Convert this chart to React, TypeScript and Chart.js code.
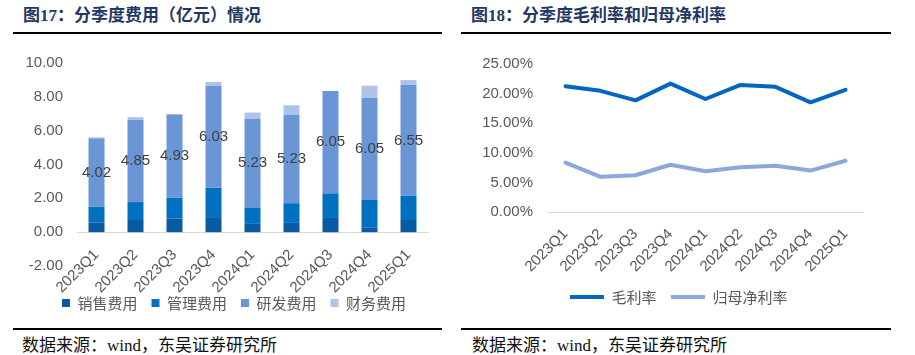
import React, { useEffect, useRef } from 'react';
import { Chart, registerables } from 'chart.js';

Chart.register(...registerables);

// ---- data ----
const quarters = ['2023Q1', '2023Q2', '2023Q3', '2023Q4', '2024Q1', '2024Q2', '2024Q3', '2024Q4', '2025Q1'];
const salesExp = [0.58, 0.72, 0.80, 0.89, 0.49, 0.55, 0.84, 0.26, 0.72];
const adminExp = [0.93, 1.06, 1.23, 1.73, 0.97, 1.16, 1.45, 1.64, 1.43];
const rdExp = [4.02, 4.85, 4.93, 6.03, 5.23, 5.23, 6.05, 6.05, 6.55];
const finExp = [0.08, 0.17, 0.03, 0.23, 0.38, 0.56, -0.03, 0.71, 0.29];
const grossMargin = [21.26, 20.48, 18.87, 21.70, 19.10, 21.48, 21.15, 18.54, 20.65];
const netMargin = [8.36, 5.98, 6.25, 8.02, 6.91, 7.58, 7.86, 7.03, 8.69];
const expenseTicks = [-2, 0, 2, 4, 6, 8, 10];
const marginTicks = [0, 5, 10, 15, 20, 25];
const expenseNames = ['销售费用', '管理费用', '研发费用', '财务费用'];
const marginNames = ['毛利率', '归母净利率'];

const LATIN = "'Liberation Sans', Arial, sans-serif";
const CJK = "'Noto Sans CJK SC', sans-serif";
const GRAY = '#595959';

const rdLabelPlugin = {
  id: 'rdLabels',
  afterDatasetsDraw(chart: any) {
    const meta = chart.getDatasetMeta(2);
    const ctx = chart.ctx;
    ctx.save();
    ctx.font = `15px ${LATIN}`;
    ctx.fillStyle = '#404040';
    ctx.textAlign = 'center';
    ctx.textBaseline = 'middle';
    meta.data.forEach((el: any, i: number) => {
      const { x, y, base } = el.getProps(['x', 'y', 'base'], true);
      ctx.fillText(rdExp[i].toFixed(2), x, (y + base) / 2);
    });
    ctx.restore();
  },
};

// an empty axis on the right, used only to reserve space
const spacerAxis = (w: number) => ({
  type: 'linear',
  position: 'right',
  display: true,
  grid: { display: false, drawTicks: false },
  border: { display: false },
  ticks: { display: false },
  afterFit: (s: any) => { s.width = w; },
});

function ExpenseChart() {
  const ref = useRef<HTMLCanvasElement>(null);
  useEffect(() => {
    const colors = ['#0A5AA3', '#0070C0', '#6A96D6', '#AFC3E9'];
    const series = [salesExp, adminExp, rdExp, finExp];
    const chart = new Chart(ref.current!, {
      type: 'bar',
      data: {
        labels: quarters,
        datasets: series.map((d, i) => ({
          label: expenseNames[i],
          data: d,
          backgroundColor: colors[i],
          borderWidth: 0,
          categoryPercentage: 1,
          barPercentage: 0.41,
        })),
      },
      options: {
        responsive: false,
        maintainAspectRatio: false,
        animation: false,
        layout: { padding: { left: 13, right: 0, top: 20, bottom: 1.5 } },
        plugins: {
          tooltip: { enabled: false },
          legend: {
            position: 'bottom',
            title: { display: true, text: '', font: { size: 10, lineHeight: 1 }, padding: { top: 5.5, bottom: 0 } },
            labels: {
              boxWidth: 8,
              boxHeight: 8,
              padding: 14,
              color: GRAY,
              font: { size: 15, family: CJK },
            },
          },
        },
        scales: {
          x: {
            stacked: true,
            position: { y: 0 } as any,
            grid: { display: false, drawTicks: false },
            border: { display: true, color: '#D9D9D9', width: 1 },
            ticks: {
              autoSkip: false,
              maxRotation: 45,
              minRotation: 45,
              padding: 14,
              color: GRAY,
              font: { size: 15, family: LATIN },
            },
          },
          y: {
            stacked: true,
            min: expenseTicks[0],
            max: expenseTicks[expenseTicks.length - 1],
            grid: { display: false, drawTicks: false },
            border: { display: false },
            ticks: {
              stepSize: 2,
              padding: 14,
              color: GRAY,
              font: { size: 15, family: LATIN },
              callback: (v: any) => Number(v).toFixed(2),
            },
            afterFit: (s: any) => { s.width = 64; },
          },
          y2: spacerAxis(27),
        },
      },
      plugins: [rdLabelPlugin],
    } as any);
    return () => chart.destroy();
  }, []);
  return <canvas ref={ref} width={455} height={282} style={{ position: 'absolute', left: 0, top: 40, width: 455, height: 282 }} />;
}

function MarginChart() {
  const ref = useRef<HTMLCanvasElement>(null);
  useEffect(() => {
    const colors = ['#0066BF', '#8AA8DE'];
    const series = [grossMargin, netMargin];
    const chart = new Chart(ref.current!, {
      type: 'line',
      data: {
        labels: quarters,
        datasets: series.map((d, i) => ({
          label: marginNames[i],
          data: d,
          borderColor: colors[i],
          backgroundColor: colors[i],
          borderWidth: 4,
          pointRadius: 0,
          tension: 0,
          borderCapStyle: 'round',
          borderJoinStyle: 'round',
        })),
      },
      options: {
        responsive: false,
        maintainAspectRatio: false,
        animation: false,
        layout: { padding: { left: 17.5, right: 0, top: 21.7, bottom: 5.5 } },
        plugins: {
          tooltip: { enabled: false },
          legend: {
            position: 'bottom',
            labels: {
              boxWidth: 34,
              boxHeight: 4,
              padding: 14.5,
              color: GRAY,
              font: { size: 15, family: CJK },
              generateLabels: (c: any) =>
                (Chart.defaults.plugins.legend.labels as any).generateLabels(c).map((l: any) => ({
                  ...l,
                  fillStyle: colors[l.datasetIndex],
                  strokeStyle: colors[l.datasetIndex],
                  lineWidth: 0,
                })),
            },
          },
        },
        scales: {
          x: {
            offset: true,
            grid: { display: false, drawTicks: false },
            border: { display: true, color: '#D9D9D9', width: 1 },
            ticks: {
              autoSkip: false,
              maxRotation: 45,
              minRotation: 45,
              padding: 13,
              color: GRAY,
              font: { size: 15, family: LATIN },
            },
            afterFit: (s: any) => { s.height = 62.7; },
          },
          y: {
            min: marginTicks[0],
            max: marginTicks[marginTicks.length - 1],
            grid: { display: false, drawTicks: false },
            border: { display: false },
            ticks: {
              stepSize: 5,
              padding: 15,
              color: GRAY,
              font: { size: 15, family: LATIN },
              callback: (v: any) => Number(v).toFixed(2) + '%',
            },
            afterFit: (s: any) => { s.width = 75.5; },
          },
          y2: spacerAxis(22),
        },
      },
    } as any);
    return () => chart.destroy();
  }, []);
  return <canvas ref={ref} width={430} height={280} style={{ position: 'absolute', left: 455, top: 40, width: 430, height: 280 }} />;
}

const titleStyle: React.CSSProperties = {
  position: 'absolute',
  top: 6,
  fontFamily: "'Liberation Serif', 'Noto Sans CJK SC', serif",
  fontWeight: 'bold',
  fontSize: 17,
  lineHeight: '20px',
  color: '#1F3864',
  whiteSpace: 'nowrap',
};
const sourceStyle: React.CSSProperties = {
  position: 'absolute',
  top: 336,
  fontFamily: "'Liberation Serif', 'Noto Sans CJK SC', serif",
  fontSize: 17,
  lineHeight: '20px',
  color: '#111',
  whiteSpace: 'nowrap',
};
const rule = (left: number, top: number, width: number): React.CSSProperties => ({
  position: 'absolute', left, top, width, height: 2, background: '#000',
});

export default function App() {
  return (
    <div style={{ position: 'absolute', left: 0, top: 0, width: 915, height: 355, background: '#fff', overflow: 'hidden' }}>
      <div style={{ ...titleStyle, left: 23 }}>图17：分季度费用（亿元）情况</div>
      <div style={{ ...titleStyle, left: 471 }}>图18：分季度毛利率和归母净利率</div>
      <div style={rule(13, 32, 429)} />
      <div style={rule(461, 32, 430)} />
      <ExpenseChart />
      <MarginChart />
      <div style={rule(13, 328, 429)} />
      <div style={rule(461, 328, 430)} />
      <div style={{ ...sourceStyle, left: 22 }}>数据来源：wind，东吴证券研究所</div>
      <div style={{ ...sourceStyle, left: 472 }}>数据来源：wind，东吴证券研究所</div>
    </div>
  );
}
